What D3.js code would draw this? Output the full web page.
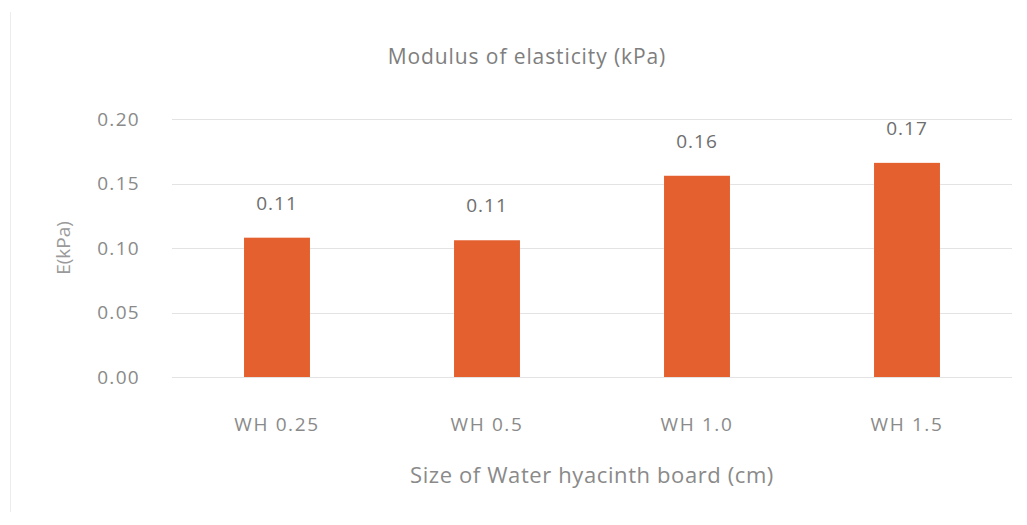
<!DOCTYPE html>
<html>
<head>
<meta charset="utf-8">
<script src="https://cdn.jsdelivr.net/npm/d3@7"></script>
<style>
  html, body { margin: 0; padding: 0; background: #fff; }
  svg { display: block; }
  text { font-family: "Open Sans", "Noto Sans", sans-serif; }
</style>
</head>
<body>
<svg id="chart" width="1027" height="525"></svg>
<script>
// Board sizes and their measured modulus of elasticity
const categories = ["WH 0.25", "WH 0.5", "WH 1.0", "WH 1.5"];
const modulus = [0.108, 0.106, 0.156, 0.166];
const yTicks = [0, 0.05, 0.10, 0.15, 0.20];

const chartTitle = "Modulus of elasticity (kPa)";
const xTitle = "Size of Water hyacinth board (cm)";
const yTitle = "E(kPa)";

const plot = { left: 172, right: 1012, top: 119, bottom: 377 };

const svg = d3.select("#chart");

// faint frame edge on the left
svg.append("line")
  .attr("x1", 10.5).attr("x2", 10.5)
  .attr("y1", 12).attr("y2", 512)
  .attr("stroke", "#ececec").attr("stroke-width", 1);

const x = d3.scaleBand()
  .domain(categories)
  .range([plot.left, plot.right])
  .paddingInner(0.686)
  .paddingOuter(0.343);

const y = d3.scaleLinear()
  .domain([0, 0.20])
  .range([plot.bottom, plot.top]);

// horizontal gridlines
svg.append("g")
  .selectAll("line")
  .data(yTicks)
  .join("line")
  .attr("x1", plot.left).attr("x2", plot.right)
  .attr("y1", d => Math.round(y(d)) + 0.5)
  .attr("y2", d => Math.round(y(d)) + 0.5)
  .attr("stroke", "#e3e3e3")
  .attr("stroke-width", 1);

// y axis tick labels
const yAxis = d3.axisLeft(y)
  .tickValues(yTicks)
  .tickFormat(d3.format(".2f"))
  .tickSize(0)
  .tickPadding(0);

const gy = svg.append("g")
  .attr("transform", `translate(${plot.left - 32},0)`)
  .call(yAxis);
gy.select(".domain").remove();
gy.selectAll("text")
  .attr("fill", "#8a8a8a")
  .style("font-size", "19px")
  .style("letter-spacing", "1.3px")
  .style("font-family", "\"Open Sans\", sans-serif");

// x axis category labels
const xAxis = d3.axisBottom(x).tickSize(0).tickPadding(0);
const gx = svg.append("g")
  .attr("transform", `translate(0,${plot.bottom + 40})`)
  .call(xAxis);
gx.select(".domain").remove();
gx.selectAll("text")
  .attr("fill", "#8a8a8a")
  .style("font-size", "19px")
  .style("letter-spacing", "1.6px")
  .style("font-family", "\"Open Sans\", sans-serif");

// bars
svg.append("g")
  .selectAll("rect")
  .data(modulus)
  .join("rect")
  .attr("x", (d, i) => x(categories[i]))
  .attr("width", x.bandwidth())
  .attr("y", d => y(d))
  .attr("height", d => y(0) - y(d))
  .attr("fill", "#e5602f");

// value labels above bars
svg.append("g")
  .selectAll("text")
  .data(modulus)
  .join("text")
  .attr("x", (d, i) => x(categories[i]) + x.bandwidth() / 2)
  .attr("y", d => y(d) - 28)
  .attr("text-anchor", "middle")
  .attr("fill", "#6e6e6e")
  .style("font-size", "19px")
  .style("letter-spacing", "1px")
  .text(d => d3.format(".2f")(d));

// chart title
svg.append("text")
  .attr("x", 527).attr("y", 64)
  .attr("text-anchor", "middle")
  .attr("fill", "#7e7e7e")
  .style("font-size", "21px")
  .style("letter-spacing", "0.9px")
  .text(chartTitle);

// x axis title
svg.append("text")
  .attr("x", 592).attr("y", 483)
  .attr("text-anchor", "middle")
  .attr("fill", "#8a8a8a")
  .style("font-size", "22px")
  .style("letter-spacing", "0.6px")
  .text(xTitle);

// y axis title
svg.append("text")
  .attr("transform", "translate(70,248) rotate(-90)")
  .attr("text-anchor", "middle")
  .attr("fill", "#9a9a9a")
  .style("font-size", "19px")
  .text(yTitle);
</script>
</body>
</html>
